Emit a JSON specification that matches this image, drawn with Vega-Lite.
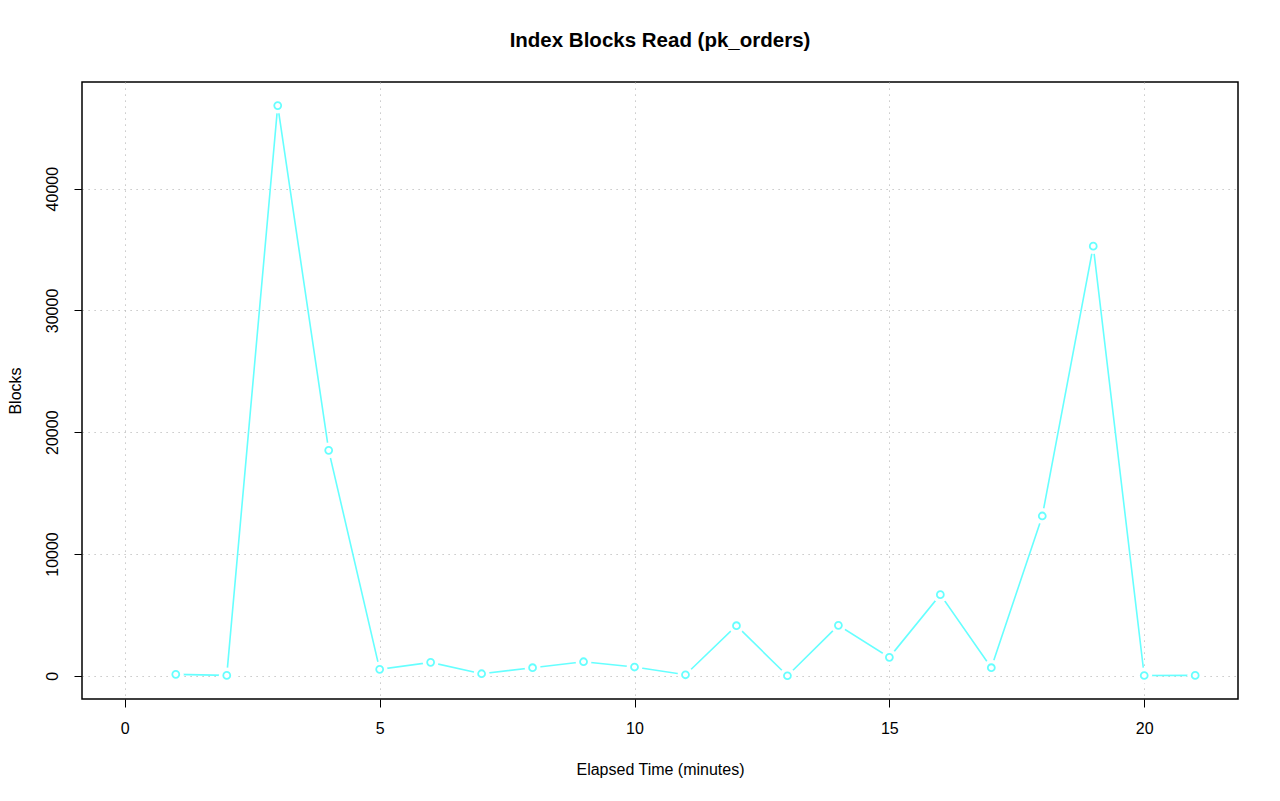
{
  "$schema": "https://vega.github.io/schema/vega-lite/v6.json",
  "autosize": "none",
  "width": 1156,
  "height": 617,
  "padding": {"left": 82, "top": 82, "right": 42, "bottom": 102},
  "background": "white",
  "config": {
    "font": "Liberation Sans",
    "view": {"stroke": "black", "strokeWidth": 1.5},
    "axis": {
      "domain": false,
      "tickColor": "black",
      "tickSize": 8,
      "tickWidth": 1,
      "labelColor": "black",
      "labelFontSize": 16,
      "titleFontSize": 16,
      "titleFontWeight": "normal",
      "titleColor": "black",
      "gridColor": "#b8b8b8",
      "gridDash": [1.2, 4.8],
      "gridWidth": 1,
      "zindex": 1
    }
  },
  "title": {
    "text": "Index Blocks Read (pk_orders)",
    "fontSize": 20.5,
    "fontWeight": "bold",
    "color": "black",
    "offset": 31
  },
  "data": {
    "values": [
      {"t": 1, "blocks": 115},
      {"t": 2, "blocks": 30},
      {"t": 3, "blocks": 46820},
      {"t": 4, "blocks": 18510},
      {"t": 5, "blocks": 525},
      {"t": 6, "blocks": 1100},
      {"t": 7, "blocks": 165},
      {"t": 8, "blocks": 660},
      {"t": 9, "blocks": 1150},
      {"t": 10, "blocks": 715},
      {"t": 11, "blocks": 80},
      {"t": 12, "blocks": 4110},
      {"t": 13, "blocks": 0},
      {"t": 14, "blocks": 4140},
      {"t": 15, "blocks": 1510},
      {"t": 16, "blocks": 6660},
      {"t": 17, "blocks": 660},
      {"t": 18, "blocks": 13120},
      {"t": 19, "blocks": 35280},
      {"t": 20, "blocks": 20},
      {"t": 21, "blocks": 30}
    ]
  },
  "encoding": {
    "x": {
      "field": "t",
      "type": "quantitative",
      "scale": {"domain": [-0.84, 21.84], "nice": false, "zero": false},
      "axis": {
        "title": "Elapsed Time (minutes)",
        "values": [0, 5, 10, 15, 20],
        "format": "d",
        "labelPadding": 13,
        "titlePadding": 25,
        "labelFlush": false
      }
    },
    "y": {
      "field": "blocks",
      "type": "quantitative",
      "scale": {"domain": [-1910, 48760], "nice": false, "zero": false},
      "axis": {
        "title": "Blocks",
        "values": [0, 10000, 20000, 30000, 40000],
        "format": "d",
        "labelAngle": -90,
        "labelAlign": "center",
        "labelBaseline": "bottom",
        "labelPadding": 14,
        "titlePadding": 21,
        "labelFlush": false
      }
    }
  },
  "layer": [
    {"mark": {"type": "line", "color": "#66ffff", "strokeWidth": 1.6}},
    {"mark": {"type": "point", "shape": "circle", "filled": true, "color": "white", "opacity": 1, "size": 250}},
    {"mark": {"type": "point", "shape": "circle", "filled": false, "color": "#66ffff", "opacity": 1, "strokeWidth": 1.8, "size": 48}}
  ]
}
